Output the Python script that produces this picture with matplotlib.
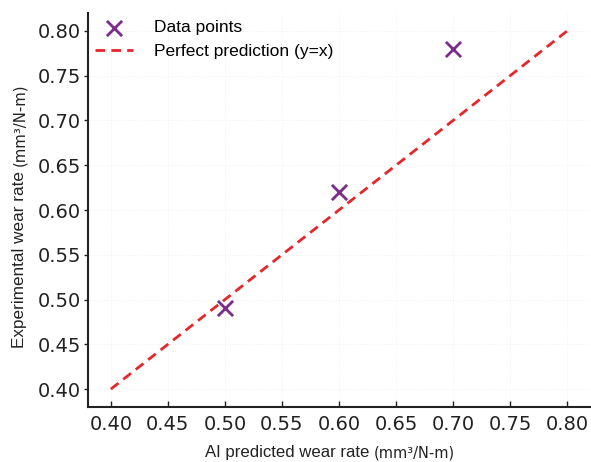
import matplotlib
matplotlib.use("Agg")
import matplotlib.pyplot as plt
from matplotlib.offsetbox import TextArea, HPacker, AnchoredOffsetbox

predicted = [0.50, 0.60, 0.70]
experimental = [0.49, 0.62, 0.78]
line_x = [0.40, 0.80]
ticks = [0.40, 0.45, 0.50, 0.55, 0.60, 0.65, 0.70, 0.75, 0.80]

fig = plt.figure(figsize=(5.91, 4.62), dpi=100)
ax = fig.add_axes([88/591, 1-407/462, (590-88)/591, (407-13)/462])

ax.scatter(predicted, experimental, marker='x', s=120, color='#7B2C8C', linewidths=2,
           label='Data points', zorder=3)
ax.plot(line_x, line_x, linestyle='--', color='#E8262A', linewidth=2,
        dashes=(3.5, 2.2), label='Perfect prediction (y=x)')

ax.set_xlim(0.38, 0.82)
ax.set_ylim(0.38, 0.82)
ax.set_xticks(ticks)
ax.set_yticks(ticks)
ax.set_xticklabels([f"{t:.2f}" for t in ticks])
ax.set_yticklabels([f"{t:.2f}" for t in ticks])
for s in ['top', 'right']:
    ax.spines[s].set_visible(False)
for s in ['left', 'bottom']:
    ax.spines[s].set_linewidth(1.5)
    ax.spines[s].set_color('#222222')
ax.tick_params(axis='x', direction='in', length=4, width=1, labelsize=14, pad=6, colors='#222222')
ax.tick_params(axis='y', direction='out', length=3, width=1, labelsize=14, pad=2, colors='#222222')
for lab in ax.get_xticklabels() + ax.get_yticklabels():
    lab.set_family('DejaVu Sans')
ax.grid(True, linestyle=':', color='#eeeeee', linewidth=0.6)

leg = ax.legend(loc='upper left', frameon=False, prop={'family': 'Liberation Sans', 'size': 12.5},
                handlelength=2.2, borderaxespad=0.0, bbox_to_anchor=(0.0, 1.0),
                handletextpad=1.2, labelspacing=0.5)

def make_label(main, unit):
    t1 = TextArea(main, textprops=dict(family='Liberation Sans', size=12.1, color='#222222'))
    t2 = TextArea(unit, textprops=dict(family='DejaVu Sans', size=10.5, color='#222222'))
    return HPacker(children=[t1, t2], align='baseline', pad=0, sep=0)

xl = make_label('AI predicted wear rate ', '(mm³/N-m)')
box = AnchoredOffsetbox(loc='center', child=xl, frameon=False, pad=0,
                        bbox_to_anchor=(330/591, 1-453/462), bbox_transform=fig.transFigure,
                        borderpad=0)
fig.add_artist(box)

fig.canvas.draw()
r = fig.canvas.get_renderer()
tmain = fig.text(0, 0, 'Experimental wear rate ', rotation=90, family='Liberation Sans', size=12.3,
                 color='#222222', ha='left', va='baseline', rotation_mode='anchor')
tunit = fig.text(0, 0, '(mm³/N-m)', rotation=90, family='DejaVu Sans', size=10.7,
                 color='#222222', ha='left', va='baseline', rotation_mode='anchor')
w1 = tmain.get_window_extent(r).height
w2 = tunit.get_window_extent(r).height
total = w1 + w2
cx, cy = 24, 462 - 216
start = cy - total / 2
tmain.set_position((cx / 591, start / 462))
tunit.set_position((cx / 591, (start + w1) / 462))

fig.savefig('out.png', dpi=100)
